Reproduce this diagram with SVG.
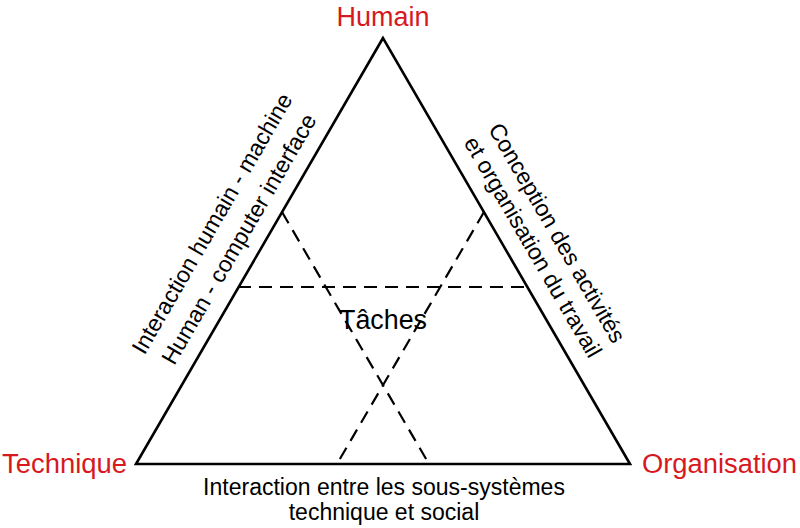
<svg xmlns="http://www.w3.org/2000/svg" width="800" height="528" viewBox="0 0 800 528">
<style>
.lbl{font-family:"Liberation Sans",Arial,sans-serif;font-size:23px;fill:#000;text-anchor:middle}
.pole{font-family:"Liberation Sans",Arial,sans-serif;font-size:27px;fill:#d7191f}
.edge{fill:none;stroke:#000;stroke-width:2.6;stroke-linejoin:miter}
.dash{fill:none;stroke:#000;stroke-width:2.2;stroke-dasharray:13 8}
</style>
<rect width="800" height="528" fill="#fff"/>
<g id="connectors">
<polygon class="edge" points="383,38 136,464 630,464"/>
<line class="dash" x1="238" y1="287" x2="528" y2="287"/>
<line class="dash" x1="282" y1="212" x2="429" y2="464"/>
<line class="dash" x1="484" y1="212" x2="337" y2="464"/>
</g>
<g id="humain"><text class="pole" x="383" y="26" text-anchor="middle" textLength="93" lengthAdjust="spacingAndGlyphs">Humain</text></g>
<g id="technique"><text class="pole" x="2" y="473" textLength="125" lengthAdjust="spacingAndGlyphs">Technique</text></g>
<g id="organisation"><text class="pole" x="642" y="473" textLength="155" lengthAdjust="spacingAndGlyphs">Organisation</text></g>
<g id="taches"><text class="pole" x="383" y="329" text-anchor="middle" style="fill:#000" textLength="88" lengthAdjust="spacingAndGlyphs">Tâches</text></g>
<g id="label-left">
<text class="lbl" transform="translate(218.8,227.4) rotate(-59.9)">Interaction humain - machine</text>
<text class="lbl" transform="translate(245.7,243.0) rotate(-59.9)">Human - computer interface</text>
</g>
<g id="label-right">
<text class="lbl" transform="translate(550.3,236.8) rotate(59.9)">Conception des activités</text>
<text class="lbl" transform="translate(526.1,250.9) rotate(59.9)">et organisation du travail</text>
</g>
<g id="label-bottom">
<text class="lbl" x="384" y="495">Interaction entre les sous-systèmes</text>
<text class="lbl" x="384" y="520">technique et social</text>
</g>
</svg>
